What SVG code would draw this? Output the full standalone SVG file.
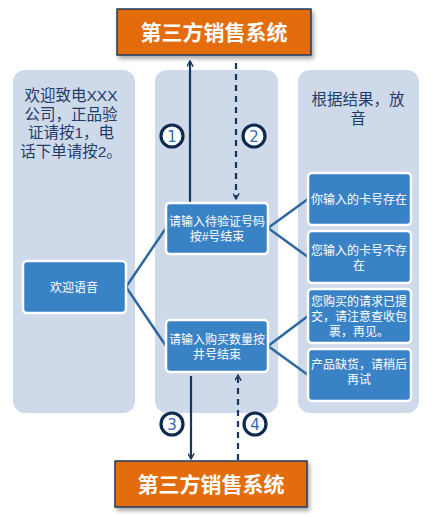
<svg xmlns="http://www.w3.org/2000/svg" width="433" height="517" viewBox="0 0 433 517">
<defs>
<style>
.col{fill:#CED9EA}
.sys{fill:#E36C0A;stroke:#1F3A5F;stroke-width:1.5}
.systxt{fill:#fff;font-family:"Liberation Sans","Noto Sans CJK SC",sans-serif;font-size:21px;font-weight:bold;text-anchor:middle}
.node{fill:#3A82C6;stroke:#fff;stroke-width:2.5}
.ntxt{fill:#fff;font-family:"Liberation Sans","Noto Sans CJK SC",sans-serif;font-size:12px;text-anchor:middle}
.ctxt{fill:#1F3D6B;font-family:"Liberation Sans","Noto Sans CJK SC",sans-serif;font-size:15.5px;text-anchor:middle}
.link{fill:none;stroke:#2E68A2;stroke-width:2.5}
.flow{fill:none;stroke:#17375E;stroke-width:2.2}
.dash{stroke-dasharray:6,5}
.num{fill:#fff;stroke:#0F2A4F;stroke-width:3.2}
.ntx{fill:#2E6CB4;font-family:"DejaVu Sans",sans-serif;font-size:15px;text-anchor:middle}
</style>
<marker id="arr" viewBox="0 0 10 10" refX="9" refY="5" markerWidth="7" markerHeight="7" orient="auto" markerUnits="userSpaceOnUse">
<polyline points="1,0.5 9,5 1,9.5" fill="none" stroke="#17375E" stroke-width="2"/>
</marker>
<filter id="sh" x="-10%" y="-20%" width="130%" height="160%">
<feDropShadow dx="2" dy="3" stdDeviation="2" flood-color="#000" flood-opacity="0.35"/>
</filter>
</defs>

<g id="col-left"><rect class="col" x="13" y="70" width="122" height="343" rx="12"/>
<text class="ctxt" x="71" y="101">欢迎致电XXX</text>
<text class="ctxt" x="71" y="119.5">公司，正品验</text>
<text class="ctxt" x="71" y="138">证请按1，电</text>
<text class="ctxt" x="71" y="156.5">话下单请按2。</text></g>
<g id="col-mid"><rect class="col" x="155" y="70" width="123" height="343" rx="12"/></g>
<g id="col-right"><rect class="col" x="298" y="70" width="121" height="343" rx="12"/>
<text class="ctxt" x="358" y="105">根据结果，放</text>
<text class="ctxt" x="358" y="124">音</text></g>

<g id="connectors">
<polyline class="link" points="166,228 126,287 166,346"/>
<polyline class="link" points="308,199 268,228 308,257"/>
<polyline class="link" points="308,316 268,346 308,375"/>
<line class="flow" x1="190" y1="203" x2="190" y2="61" marker-end="url(#arr)"/>
<line class="flow dash" x1="236" y1="63" x2="236" y2="199" marker-end="url(#arr)"/>
<line class="flow" x1="191" y1="376" x2="191" y2="459" marker-end="url(#arr)"/>
<line class="flow dash" x1="238" y1="460" x2="238" y2="375" marker-end="url(#arr)"/>
</g>

<g id="sys-top"><rect class="sys" x="117" y="9" width="194" height="46" filter="url(#sh)"/>
<text class="systxt" x="214" y="40">第三方销售系统</text></g>
<g id="sys-bottom"><rect class="sys" x="115" y="461" width="192" height="46" filter="url(#sh)"/>
<text class="systxt" x="211" y="492">第三方销售系统</text></g>

<g id="n-welcome"><rect class="node" x="23" y="261" width="103" height="52" rx="4"/>
<text class="ntxt" x="74" y="292">欢迎语音</text></g>
<g id="n-verify"><rect class="node" x="166" y="203" width="102" height="51" rx="4"/>
<text class="ntxt"><tspan x="217" y="226">请输入待验证号码</tspan><tspan x="217" y="241">按#号结束</tspan></text></g>
<g id="n-buy"><rect class="node" x="166" y="320" width="102" height="52" rx="4"/>
<text class="ntxt"><tspan x="217" y="344">请输入购买数量按</tspan><tspan x="217" y="359">井号结束</tspan></text></g>
<g id="n-exist"><rect class="node" x="308" y="173" width="103" height="52" rx="4"/>
<text class="ntxt" x="359" y="204">你输入的卡号存在</text></g>
<g id="n-notexist"><rect class="node" x="308" y="231" width="103" height="52" rx="4"/>
<text class="ntxt"><tspan x="359" y="255">您输入的卡号不存</tspan><tspan x="359" y="270">在</tspan></text></g>
<g id="n-ordered"><rect class="node" x="308" y="289" width="103" height="54" rx="4"/>
<text class="ntxt"><tspan x="359" y="306">您购买的请求已提</tspan><tspan x="359" y="321">交，请注意查收包</tspan><tspan x="359" y="336">裹，再见。</tspan></text></g>
<g id="n-outofstock"><rect class="node" x="308" y="349" width="103" height="52" rx="4"/>
<text class="ntxt"><tspan x="359" y="369">产品缺货，请稍后</tspan><tspan x="359" y="384">再试</tspan></text></g>

<g id="step1"><circle class="num" cx="172" cy="136" r="11"/><text class="ntx" x="172" y="141.5">1</text></g>
<g id="step2"><circle class="num" cx="254" cy="136" r="11"/><text class="ntx" x="254" y="141.5">2</text></g>
<g id="step3"><circle class="num" cx="172" cy="424" r="11"/><text class="ntx" x="172" y="429.5">3</text></g>
<g id="step4"><circle class="num" cx="255" cy="424" r="11"/><text class="ntx" x="255" y="429.5">4</text></g>
</svg>
